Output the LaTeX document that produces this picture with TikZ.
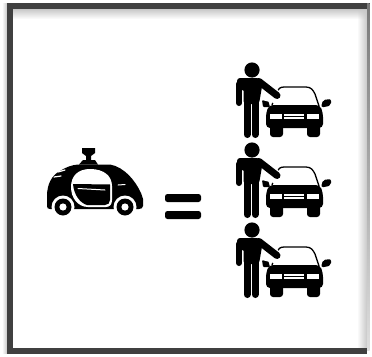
\documentclass[tikz,border=0pt]{standalone}
\usepackage{xcolor}
\usetikzlibrary{fadings}
\definecolor{framegray}{HTML}{404040}
\definecolor{shadegray}{HTML}{C8C8C8}
\definecolor{iconblack}{HTML}{000000}

\begin{document}
\begin{tikzpicture}[
  x=1pt, y=-1pt,
  icon/.style={fill=iconblack, draw=none},
  cutout/.style={fill=white, draw=none},
  limb/.style={draw=iconblack, line cap=round, line join=round},
  trim/.style={draw=white, line cap=round}
]
\useasboundingbox (0,0) rectangle (372,356);
% frame with its soft shadow
\fill[white] (0,0) rectangle (372,356);
\fill[shadegray, path fading=west] (2,3) rectangle (7,354);
\fill[shadegray, path fading=south] (13,9) rectangle (367,19);
\fill[shadegray, path fading=west] (357,9) rectangle (367,348);
\fill[top color=framegray!70, bottom color=shadegray!60] (367,3) rectangle (369.5,350);
\fill[framegray] (7,3) rectangle (367,9);
\fill[framegray] (7,3) rectangle (13,354);
\fill[framegray] (7,348) rectangle (367,354);

% robot car
\fill[icon] (47,206) -- (47,196) .. controls (47,184) and (52,175) .. (60,171)
  .. controls (66,167) and (72,165) .. (78,164.5) -- (110,164.5)
  .. controls (124,167) and (135,180) .. (141,193) -- (143,199) -- (143,206)
  .. controls (143,208) and (141,209) .. (139,209) -- (50,209)
  .. controls (48,209) and (47,208) .. (47,206) -- cycle;
\fill[icon] (82,148) -- (95,148) -- (95,153) -- (91,156) -- (91,160) -- (95,160) -- (98,164.5)
  -- (79,164.5) -- (83,160) -- (86,160) -- (86,156) -- (82,153) -- cycle;
\fill[cutout] (71,187) .. controls (71,176) and (78,169) .. (90,169)
  .. controls (104,169) and (112,176) .. (112,186) -- (112,200)
  .. controls (112,204) and (110,207) .. (106,207) -- (88,207)
  .. controls (78,207) and (71,198) .. (71,187) -- cycle;
\fill[icon] (73,184) -- (110,184.5) -- (110,200) .. controls (110,203) and (108,205) .. (105,205)
  -- (87,205) .. controls (80,203) and (74,195) .. (73,184) -- cycle;
\draw[trim, line width=1pt] (78,188.5) -- (105,190);
\draw[trim, line width=1pt] (118,185) -- (125,184.5);
\draw[trim, line width=1.2pt] (54,177) -- (61,176);
\draw[trim, line width=1.2pt] (58,172) -- (65,170);
\foreach \wx in {63,125} {
  \fill[cutout] (\wx,207) circle (11.5);
  \fill[icon] (\wx,207) circle (8.5);
  \fill[cutout] (\wx,207) circle (3.6);
}

% equals sign
\fill[icon, rounded corners=2.5pt] (165,194) rectangle (201,202);
\fill[icon, rounded corners=2.5pt] (165,211) rectangle (201,219);

% three drivers with their cars
\foreach \rowy in {0,80,160} {
  \begin{scope}[shift={(0,\rowy)}]
    % car
    \draw[limb, line width=1.3pt] (272,105) -- (277,92) .. controls (278,89) and (280,87) .. (284,87)
      -- (306,87) .. controls (311,87) and (313,90) .. (315,94) -- (319,106);
    \fill[icon, rounded corners=1pt] (262,100) -- (268,100) -- (270,107) -- (263,107) -- cycle;
    \fill[icon, rounded corners=2pt] (323,100) -- (331,99) -- (331,105) -- (326,107) -- (321,107) -- cycle;
    \fill[icon, rounded corners=4pt] (269,105) -- (320,105) -- (323,113) -- (323,128) -- (266,128) -- (266,113) -- cycle;
    \fill[icon, rounded corners=3pt] (270,122) rectangle (283,137);
    \fill[icon, rounded corners=3pt] (307,122) rectangle (320,137);
    \fill[cutout] (270,114) rectangle (282,119);
    \fill[cutout] (284,114) rectangle (304,119);
    \fill[cutout] (307,114) rectangle (319,119);
    \draw[iconblack, line width=0.6pt] (284,116.5) -- (304,116.5);
    % driver
    \fill[cutout] (260,76) -- (284,95) -- (278,104) -- (262,100) -- cycle;
    \fill[icon] (252,70) circle (7.6);
    \fill[icon, rounded corners=3pt] (237,78) -- (259,78) -- (263,81) -- (259,104) -- (243.5,104) -- (243.5,88) -- (242,88) -- (242,90) -- (237,90) -- cycle;
    \draw[limb, line width=6pt] (239,84) -- (239,103);
    \draw[limb, line width=7pt] (259,81.5) -- (277,95.5);
    \draw[limb, line width=7pt] (247,100) -- (247,134.5);
    \draw[limb, line width=7pt] (255,100) -- (255,134.5);
  \end{scope}
}
\end{tikzpicture}
\end{document}
